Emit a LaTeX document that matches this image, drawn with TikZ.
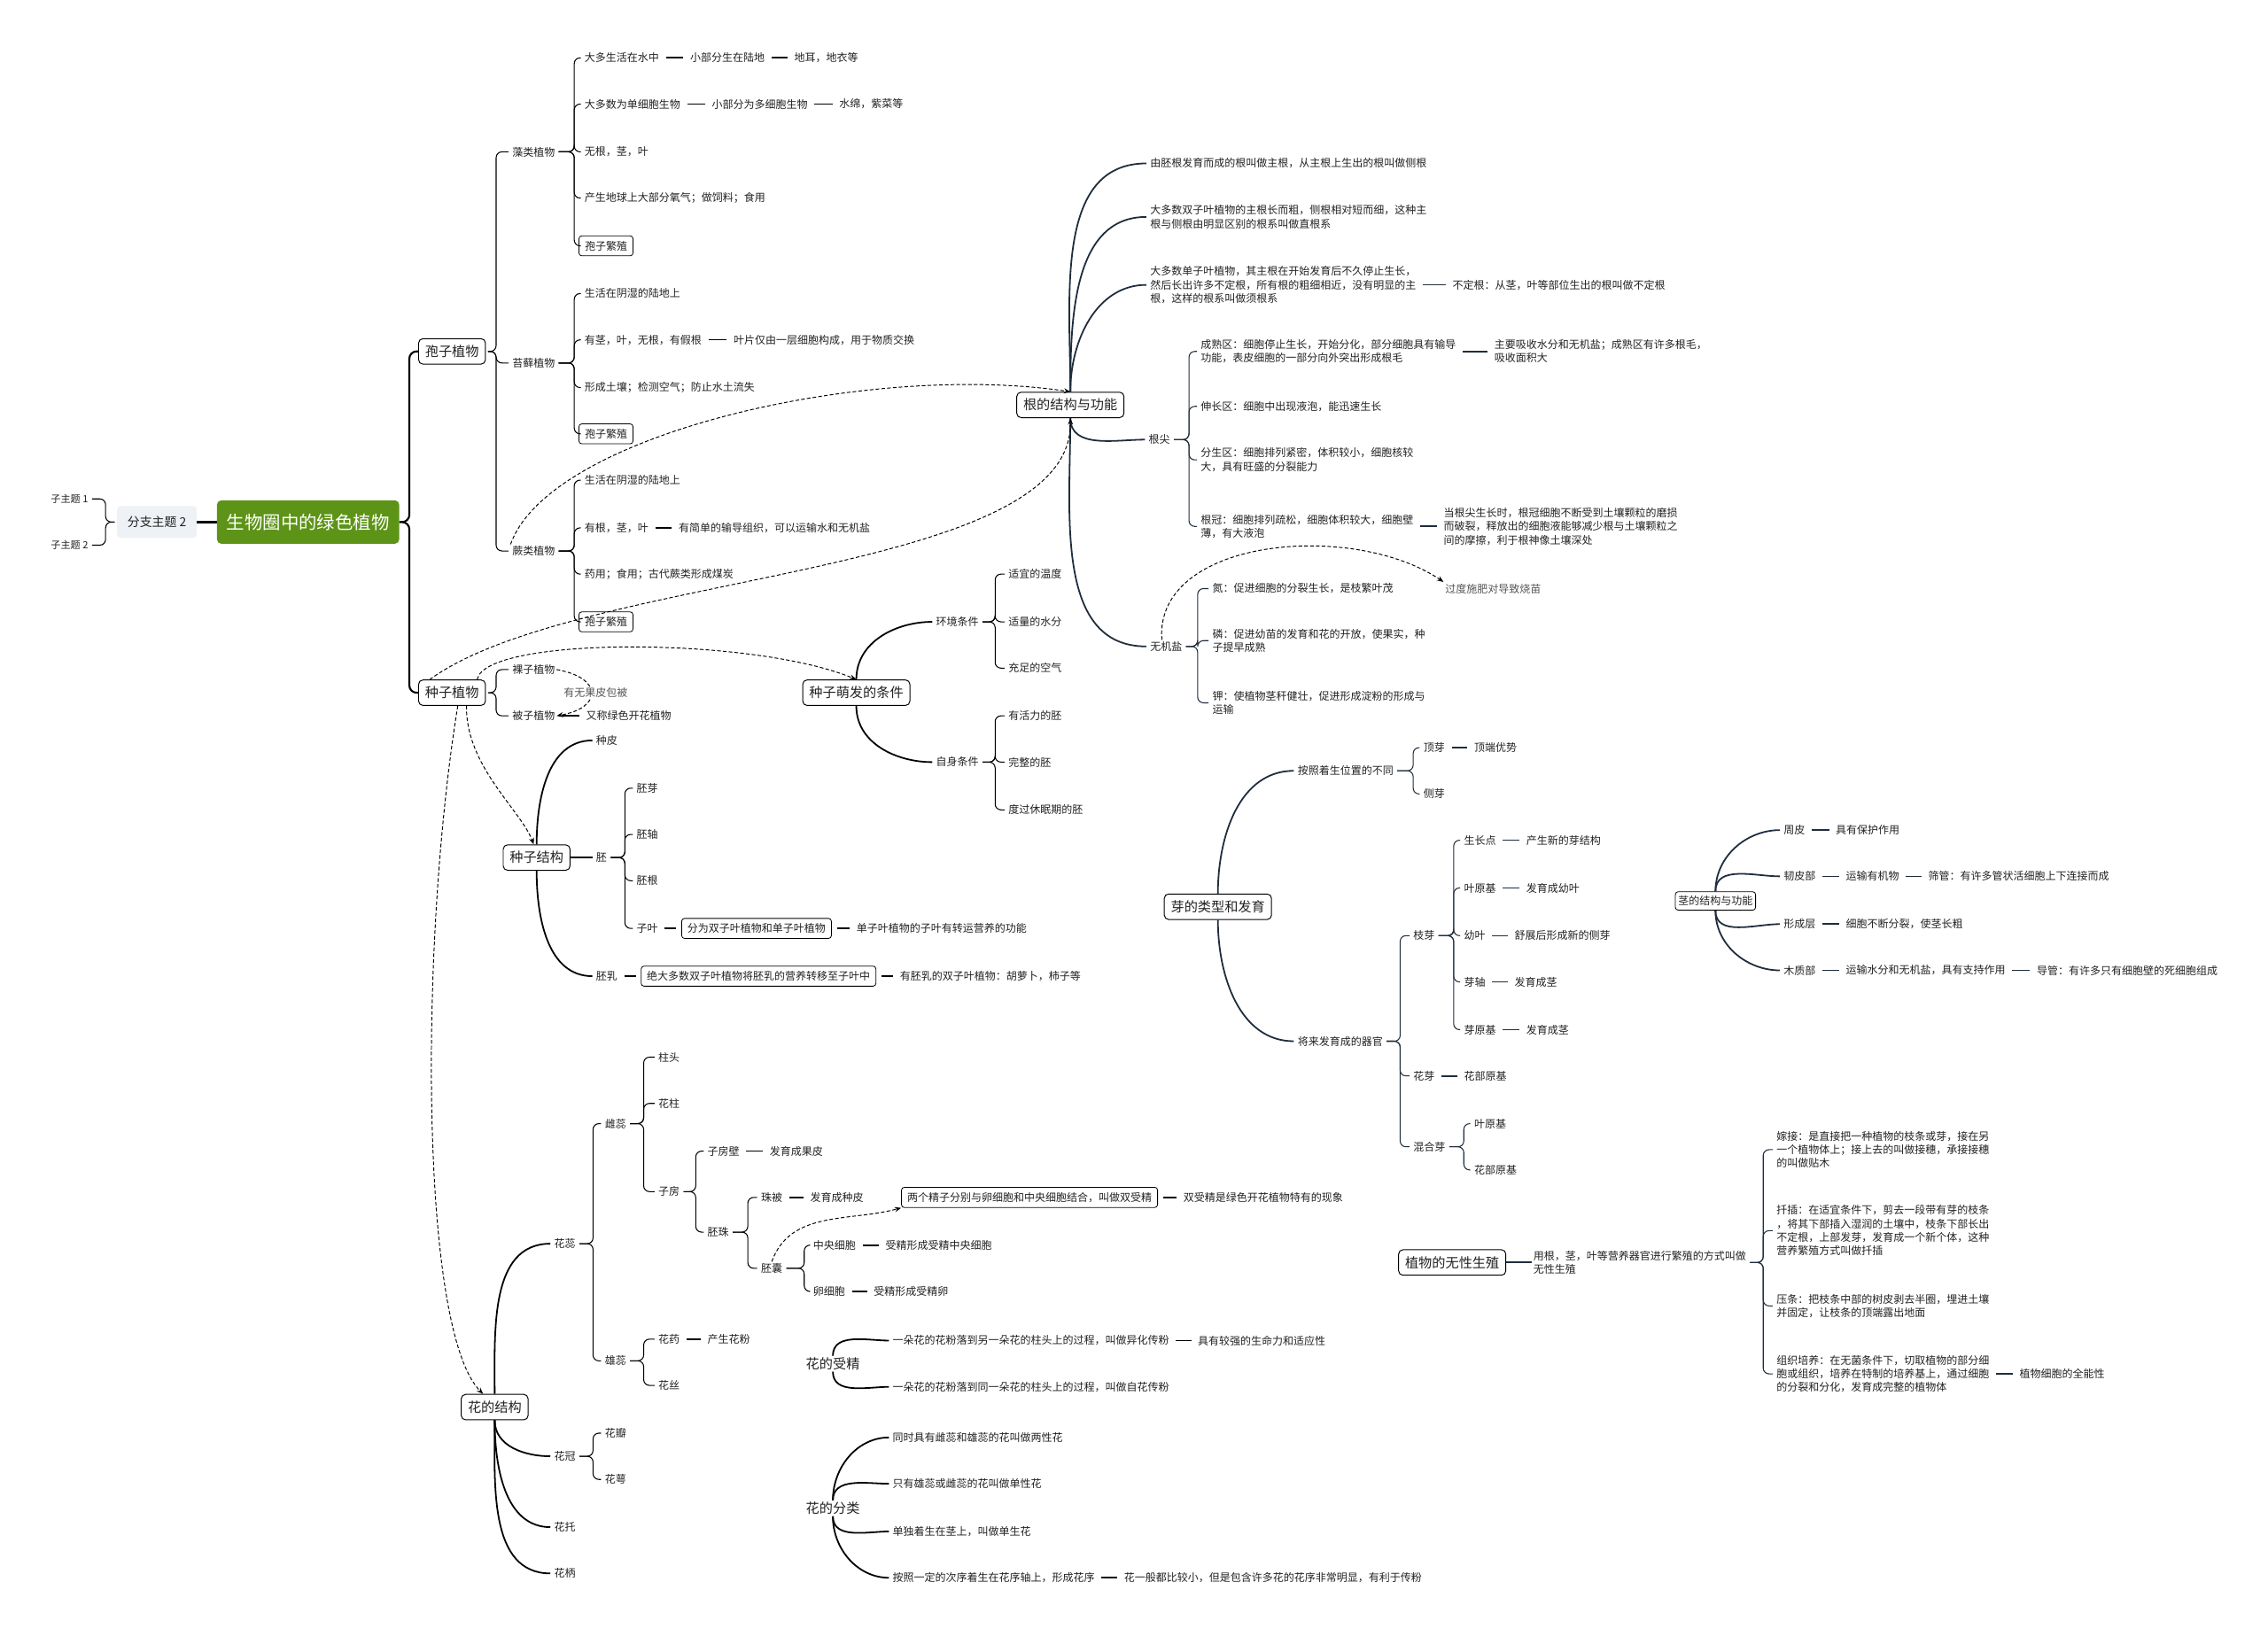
\documentclass[tikz,border=0pt]{standalone}
\usepackage{fontspec}
\setmainfont{Noto Sans CJK SC}
\usetikzlibrary{arrows.meta,calc}
\definecolor{txt}{HTML}{222222}
\definecolor{navy}{HTML}{1F2D3D}
\definecolor{rootg}{HTML}{5D9417}
\definecolor{brgray}{HTML}{EEF1F5}
\definecolor{lbl}{HTML}{555555}
\newcommand\fs{\fontsize{7.35}{9.4}\selectfont}
\newcommand\fb{\fontsize{9.3}{11}\selectfont}
\newcommand\fr{\fontsize{12.5}{14}\selectfont}
\newcommand\mmbr[4][black]{\draw[cb,draw=#1] (#2.east) -- (#2.east -| #4) |- (#3.west);}
\newcommand\mmch[3][black]{\draw[cd,draw=#1] (#2.east) -- (#3.west);}
\begin{document}
\begin{tikzpicture}[x=1pt,y=1pt,
 every node/.style={font=\fs,text=txt,inner sep=1pt},
 t/.style={anchor=west},
 ml/.style={anchor=west,align=left},
 sb/.style={anchor=west,draw=black,rounded corners=2pt,inner xsep=4pt,inner ysep=3.5pt,line width=0.5pt},
 bb/.style={draw=black,rounded corners=3pt,font=\fb,inner xsep=4.5pt,inner ysep=4.5pt,line width=0.6pt},
 cb/.style={line width=0.65pt,rounded corners=4pt,shorten <=1.5pt,shorten >=1.5pt},
 cd/.style={line width=1pt,shorten <=3.5pt,shorten >=3.5pt},
 cc/.style={line width=1.1pt,shorten >=1.5pt},
 rel/.style={line width=0.6pt,dash pattern=on 2.5pt off 1.5pt,-{Stealth[length=4.5pt,width=3.5pt]}},
]
\fill[white] (0,0) rectangle (1568,-1131);
\path[use as bounding box] (0,0) rectangle (1568,-1131);

% ---------- root ----------
\node[fill=rootg,text=white,font=\fr,rounded corners=3pt,minimum width=126pt,minimum height=30pt] (root) at (213,-361) {生物圈中的绿色植物};
\node[fill=brgray,font=\fontsize{8.5}{10}\selectfont,rounded corners=2.5pt,minimum width=55pt,minimum height=22pt] (br2) at (108.5,-361) {分支主题 2};
\node[t,font=\fontsize{6.8}{8}\selectfont] (z1) at (34,-345) {子主题 1};
\node[t,font=\fontsize{6.8}{8}\selectfont] (z2) at (34,-377) {子主题 2};
\coordinate (bZ) at (73,0);
\draw[cb] (br2.west) -- (br2.west -| bZ) |- (z1.east);
\draw[cb] (br2.west) -- (br2.west -| bZ) |- (z2.east);
\draw[line width=1.5pt] (br2.east) -- (root.west);

\coordinate (jT) at (283,0);
\node[bb] (spore) at (312.5,-243) {孢子植物};
\node[bb] (seed) at (312.5,-479) {种子植物};
\draw[line width=1.3pt,rounded corners=5pt] (root.east) -- (root.east -| jT) |- (spore.west);
\draw[line width=1.3pt,rounded corners=5pt] (root.east) -- (root.east -| jT) |- (seed.west);

% ---------- spore plants ----------
\coordinate (b1) at (343,0);
\coordinate (b2) at (397,0);
\node[t] (algae) at (353,-105) {藻类植物};
\node[t] (moss) at (353,-251) {苔藓植物};
\node[t] (fern) at (353,-381) {蕨类植物};
\mmbr{spore}{algae}{b1}\mmbr{spore}{moss}{b1}\mmbr{spore}{fern}{b1}

\node[t] (a1) at (403,-40) {大多生活在水中};
\node[t] (a1b) at (476,-40) {小部分生在陆地};
\node[t] (a1c) at (548,-40) {地耳，地衣等};
\node[t] (a2) at (403,-72) {大多数为单细胞生物};
\node[t] (a2b) at (491,-72) {小部分为多细胞生物};
\node[t] (a2c) at (579,-72) {水绵，紫菜等};
\node[t] (a3) at (403,-105) {无根，茎，叶};
\node[t] (a4) at (403,-137) {产生地球上大部分氧气；做饲料；食用};
\node[sb] (a5) at (400,-170) {孢子繁殖};
\mmbr{algae}{a1}{b2}\mmbr{algae}{a2}{b2}\mmbr{algae}{a3}{b2}\mmbr{algae}{a4}{b2}\mmbr{algae}{a5}{b2}
\mmch{a1}{a1b}\mmch{a1b}{a1c}\mmch{a2}{a2b}\mmch{a2b}{a2c}

\node[t] (m1) at (403,-203) {生活在阴湿的陆地上};
\node[t] (m2) at (403,-235) {有茎，叶，无根，有假根};
\node[t] (m2b) at (506,-235) {叶片仅由一层细胞构成，用于物质交换};
\node[t] (m3) at (403,-268) {形成土壤；检测空气；防止水土流失};
\node[sb] (m4) at (400,-300) {孢子繁殖};
\mmbr{moss}{m1}{b2}\mmbr{moss}{m2}{b2}\mmbr{moss}{m3}{b2}\mmbr{moss}{m4}{b2}
\mmch{m2}{m2b}

\node[t] (f1) at (403,-332) {生活在阴湿的陆地上};
\node[t] (f2) at (403,-365) {有根，茎，叶};
\node[t] (f2b) at (468,-365) {有简单的输导组织，可以运输水和无机盐};
\node[t] (f3) at (403,-397) {药用；食用；古代蕨类形成煤炭};
\node[sb] (f4) at (400,-430) {孢子繁殖};
\mmbr{fern}{f1}{b2}\mmbr{fern}{f2}{b2}\mmbr{fern}{f3}{b2}\mmbr{fern}{f4}{b2}
\mmch{f2}{f2b}

% ---------- seed plants ----------
\node[t] (s1) at (353,-463) {裸子植物};
\node[t] (s2) at (353,-495) {被子植物};
\node[t] (s2b) at (404,-495) {又称绿色开花植物};
\mmbr{seed}{s1}{b1}\mmbr{seed}{s2}{b1}
\mmch{s2}{s2b}
\draw[rel] (s1.east) to[out=-10,in=10,looseness=2.6] (s2.east);
\node[t,text=lbl,fill=white,inner sep=0.5pt] (s12) at (389,-479) {有无果皮包被};

% germination
\node[bb] (germ) at (592,-479) {种子萌发的条件};
\node[t] (g1) at (646,-430) {环境条件};
\node[t] (g2) at (646,-527) {自身条件};
\draw[cc] (germ.north) to[out=90,in=180] (g1.west);
\draw[cc] (germ.south) to[out=-90,in=180] (g2.west);
\coordinate (b3) at (688,0);
\node[t] (g11) at (696,-397) {适宜的温度};
\node[t] (g12) at (696,-430) {适量的水分};
\node[t] (g13) at (696,-462) {充足的空气};
\node[t] (g21) at (696,-495) {有活力的胚};
\node[t] (g22) at (696,-527) {完整的胚};
\node[t] (g23) at (696,-560) {度过休眠期的胚};
\mmbr{g1}{g11}{b3}\mmbr{g1}{g12}{b3}\mmbr{g1}{g13}{b3}
\mmbr{g2}{g21}{b3}\mmbr{g2}{g22}{b3}\mmbr{g2}{g23}{b3}

% seed structure
\node[bb] (sstr) at (371,-593) {种子结构};
\node[t] (ss1) at (411,-512) {种皮};
\node[t] (ss2) at (411,-593) {胚};
\node[t] (ss3) at (411,-675) {胚乳};
\draw[cc] (sstr.north) to[out=90,in=180] (ss1.west);
\draw[cc] (sstr.east) -- (ss2.west);
\draw[cc] (sstr.south) to[out=-90,in=180] (ss3.west);
\coordinate (b4) at (432,0);
\node[t] (e1) at (439,-545) {胚芽};
\node[t] (e2) at (439,-577) {胚轴};
\node[t] (e3) at (439,-609) {胚根};
\node[t] (e4) at (439,-642) {子叶};
\mmbr{ss2}{e1}{b4}\mmbr{ss2}{e2}{b4}\mmbr{ss2}{e3}{b4}\mmbr{ss2}{e4}{b4}
\node[sb] (e4b) at (471,-642) {分为双子叶植物和单子叶植物};
\node[t] (e4c) at (591,-642) {单子叶植物的子叶有转运营养的功能};
\mmch{e4}{e4b}\mmch{e4b}{e4c}
\node[sb] (ss3b) at (443,-675) {绝大多数双子叶植物将胚乳的营养转移至子叶中};
\node[t] (ss3c) at (621,-675) {有胚乳的双子叶植物：胡萝卜，柿子等};
\mmch{ss3}{ss3b}\mmch{ss3b}{ss3c}

% flower structure
\node[bb] (flower) at (342,-973) {花的结构};
\node[t] (fl1) at (382,-860) {花蕊};
\node[t] (fl2) at (382,-1007) {花冠};
\node[t] (fl3) at (382,-1056) {花托};
\node[t] (fl4) at (382,-1088) {花柄};
\draw[cc] (flower.north) to[out=90,in=180] (fl1.west);
\draw[cc] (flower.south) to[out=-90,in=180] (fl2.west);
\draw[cc] (flower.south) to[out=-90,in=180] (fl3.west);
\draw[cc] (flower.south) to[out=-90,in=180] (fl4.west);
\coordinate (b5) at (410,0);
\node[t] (p1) at (417,-777) {雌蕊};
\node[t] (p2) at (417,-941) {雄蕊};
\mmbr{fl1}{p1}{b5}\mmbr{fl1}{p2}{b5}
\coordinate (b6) at (445,0);
\node[t] (q1) at (454,-731) {柱头};
\node[t] (q2) at (454,-763) {花柱};
\node[t] (q3) at (454,-824) {子房};
\mmbr{p1}{q1}{b6}\mmbr{p1}{q2}{b6}\mmbr{p1}{q3}{b6}
\coordinate (b7) at (481,0);
\node[t] (r1) at (488,-796) {子房壁};
\node[t] (r1b) at (531,-796) {发育成果皮};
\node[t] (r2) at (488,-852) {胚珠};
\mmbr{q3}{r1}{b7}\mmbr{q3}{r2}{b7}\mmch{r1}{r1b}
\coordinate (b8) at (517,0);
\node[t] (u1) at (525,-828) {珠被};
\node[t] (u1b) at (559,-828) {发育成种皮};
\node[t] (u2) at (525,-877) {胚囊};
\mmbr{r2}{u1}{b8}\mmbr{r2}{u2}{b8}\mmch{u1}{u1b}
\coordinate (b9) at (556,0);
\node[t] (v1) at (561,-861) {中央细胞};
\node[t] (v1b) at (611,-861) {受精形成受精中央细胞};
\node[t] (v2) at (561,-893) {卵细胞};
\node[t] (v2b) at (603,-893) {受精形成受精卵};
\mmbr{u2}{v1}{b9}\mmbr{u2}{v2}{b9}\mmch{v1}{v1b}\mmch{v2}{v2b}
\node[sb] (dbl) at (623,-828) {两个精子分别与卵细胞和中央细胞结合，叫做双受精};
\node[t] (dblc) at (817,-828) {双受精是绿色开花植物特有的现象};
\mmch{dbl}{dblc}
\draw[rel] (u2.north) to[out=70,in=195] (dbl.south west);
\node[t] (w1) at (454,-926) {花药};
\node[t] (w1b) at (488,-926) {产生花粉};
\node[t] (w2) at (454,-958) {花丝};
\mmbr{p2}{w1}{b6}\mmbr{p2}{w2}{b6}\mmch{w1}{w1b}
\node[t] (x1) at (417,-991) {花瓣};
\node[t] (x2) at (417,-1023) {花萼};
\mmbr{fl2}{x1}{b5}\mmbr{fl2}{x2}{b5}

% pollination & classification
\node[t,font=\fb] (pol) at (556,-943) {花的受精};
\node[t] (pc1) at (616,-927) {一朵花的花粉落到另一朵花的柱头上的过程，叫做异化传粉};
\node[t] (pc1b) at (827,-927) {具有较强的生命力和适应性};
\node[t] (pc2) at (616,-959) {一朵花的花粉落到同一朵花的柱头上的过程，叫做自花传粉};
\draw[cc] (pol.north) to[out=90,in=180] (pc1.west);
\draw[cc] (pol.south) to[out=-90,in=180] (pc2.west);
\mmch{pc1}{pc1b}
\node[t,font=\fb] (cls) at (556,-1043) {花的分类};
\node[t] (cc1) at (616,-994) {同时具有雌蕊和雄蕊的花叫做两性花};
\node[t] (cc2) at (616,-1026) {只有雄蕊或雌蕊的花叫做单性花};
\node[t] (cc3) at (616,-1059) {单独着生在茎上，叫做单生花};
\node[t] (cc4) at (616,-1091) {按照一定的次序着生在花序轴上，形成花序};
\node[t] (cc4b) at (776,-1091) {花一般都比较小，但是包含许多花的花序非常明显，有利于传粉};
\draw[cc] (cls.north) to[out=90,in=180] (cc1.west);
\draw[cc] (cls.north) to[out=90,in=180] (cc2.west);
\draw[cc] (cls.south) to[out=-90,in=180] (cc3.west);
\draw[cc] (cls.south) to[out=-90,in=180] (cc4.west);
\mmch{cc4}{cc4b}

% ---------- roots ----------
\node[bb] (rootS) at (740,-280) {根的结构与功能};
\node[t] (rc1) at (794,-113) {由胚根发育而成的根叫做主根，从主根上生出的根叫做侧根};
\node[ml] (rc2) at (794,-150) {大多数双子叶植物的主根长而粗，侧根相对短而细，这种主\\根与侧根由明显区别的根系叫做直根系};
\node[ml] (rc3) at (794,-197) {大多数单子叶植物，其主根在开始发育后不久停止生长，\\然后长出许多不定根，所有根的粗细相近，没有明显的主\\根，这样的根系叫做须根系};
\node[t] (rc3b) at (1003,-197) {不定根：从茎，叶等部位生出的根叫做不定根};
\node[t] (rc4) at (793,-304) {根尖};
\node[t] (rc5) at (794,-447) {无机盐};
\draw[cc,navy] (rootS.north) to[out=90,in=180] (rc1.west);
\draw[cc,navy] (rootS.north) to[out=90,in=180] (rc2.west);
\draw[cc,navy] (rootS.north) to[out=90,in=180] (rc3.west);
\draw[cc,navy] (rootS.south) to[out=-90,in=180] (rc4.west);
\draw[cc,navy] (rootS.south) to[out=-90,in=180] (rc5.west);
\mmch[navy]{rc3}{rc3b}
\coordinate (b10) at (822,0);
\node[ml] (k1) at (829,-243) {成熟区：细胞停止生长，开始分化，部分细胞具有输导\\功能，表皮细胞的一部分向外突出形成根毛};
\node[ml] (k1b) at (1032,-243) {主要吸收水分和无机盐；成熟区有许多根毛，\\吸收面积大};
\node[t] (k2) at (829,-281) {伸长区：细胞中出现液泡，能迅速生长};
\node[ml] (k3) at (829,-318) {分生区：细胞排列紧密，体积较小，细胞核较\\大，具有旺盛的分裂能力};
\node[ml] (k4) at (829,-364) {根冠：细胞排列疏松，细胞体积较大，细胞壁\\薄，有大液泡};
\node[ml] (k4b) at (997,-364) {当根尖生长时，根冠细胞不断受到土壤颗粒的磨损\\而破裂，释放出的细胞液能够减少根与土壤颗粒之\\间的摩擦，利于根神像土壤深处};
\mmbr[navy]{rc4}{k1}{b10}\mmbr[navy]{rc4}{k2}{b10}\mmbr[navy]{rc4}{k3}{b10}\mmbr[navy]{rc4}{k4}{b10}
\mmch[navy]{k1}{k1b}\mmch[navy]{k4}{k4b}
\coordinate (b11) at (828,0);
\node[t] (n1) at (837,-407) {氮：促进细胞的分裂生长，是枝繁叶茂};
\node[ml] (n2) at (837,-443) {磷：促进幼苗的发育和花的开放，使果实，种\\子提早成熟};
\node[ml] (n3) at (837,-486) {钾：使植物茎秆健壮，促进形成淀粉的形成与\\运输};
\mmbr[navy]{rc5}{n1}{b11}\mmbr[navy]{rc5}{n2}{b11}\mmbr[navy]{rc5}{n3}{b11}
\node[t,text=lbl] (over) at (998,-407) {过度施肥对导致烧苗};
\draw[rel] ($(rc5.north)+(-3,0)$) .. controls (798,-372) and (935,-360) .. (over.north west);

% dashed relations from spore/seed plants
\draw[rel] (fern.north west) .. controls (380,-300) and (600,-250) .. (rootS.north);
\draw[rel] ($(seed.north west)+(8,0)$) .. controls (400,-395) and (742,-400) .. (rootS.south);
\draw[rel] ($(seed.north east)+(-6,0)$) .. controls (335,-440) and (520,-440) .. (germ.north);
\draw[rel] ($(seed.south)+(10,0)$) .. controls (322,-530) and (360,-560) .. ($(sstr.north)+(-2,0)$);
\draw[rel] ($(seed.south)+(4,0)$) .. controls (290,-650) and (290,-920) .. ($(flower.north)+(-8,0)$);

% ---------- buds ----------
\node[bb] (bud) at (842,-627) {芽的类型和发育};
\node[t] (bd1) at (896,-533) {按照着生位置的不同};
\node[t] (bd2) at (896,-720) {将来发育成的器官};
\draw[cc,navy] (bud.north) to[out=90,in=180] (bd1.west);
\draw[cc,navy] (bud.south) to[out=-90,in=180] (bd2.west);
\coordinate (b12) at (977,0);
\node[t] (bd1a) at (983,-517) {顶芽};
\node[t] (bd1a2) at (1018,-517) {顶端优势};
\node[t] (bd1b) at (983,-549) {侧芽};
\mmbr[navy]{bd1}{bd1a}{b12}\mmbr[navy]{bd1}{bd1b}{b12}\mmch[navy]{bd1a}{bd1a2}
\coordinate (b13) at (968,0);
\node[t] (bd2a) at (976,-647) {枝芽};
\node[t] (bd2b) at (976,-744) {花芽};
\node[t] (bd2b2) at (1011,-744) {花部原基};
\node[t] (bd2c) at (976,-793) {混合芽};
\mmbr[navy]{bd2}{bd2a}{b13}\mmbr[navy]{bd2}{bd2b}{b13}\mmbr[navy]{bd2}{bd2c}{b13}\mmch[navy]{bd2b}{bd2b2}
\coordinate (b14) at (1005,0);
\node[t] (zy1) at (1011,-581) {生长点};
\node[t] (zy1b) at (1054,-581) {产生新的芽结构};
\node[t] (zy2) at (1011,-614) {叶原基};
\node[t] (zy2b) at (1054,-614) {发育成幼叶};
\node[t] (zy3) at (1011,-647) {幼叶};
\node[t] (zy3b) at (1046,-647) {舒展后形成新的侧芽};
\node[t] (zy4) at (1011,-679) {芽轴};
\node[t] (zy4b) at (1046,-679) {发育成茎};
\node[t] (zy5) at (1011,-712) {芽原基};
\node[t] (zy5b) at (1054,-712) {发育成茎};
\mmbr[navy]{bd2a}{zy1}{b14}\mmbr[navy]{bd2a}{zy2}{b14}\mmbr[navy]{bd2a}{zy3}{b14}\mmbr[navy]{bd2a}{zy4}{b14}\mmbr[navy]{bd2a}{zy5}{b14}
\mmch[navy]{zy1}{zy1b}\mmch[navy]{zy2}{zy2b}\mmch[navy]{zy3}{zy3b}\mmch[navy]{zy4}{zy4b}\mmch[navy]{zy5}{zy5b}
\coordinate (b15) at (1012,0);
\node[t] (hy1) at (1018,-777) {叶原基};
\node[t] (hy2) at (1018,-809) {花部原基};
\mmbr[navy]{bd2c}{hy1}{b15}\mmbr[navy]{bd2c}{hy2}{b15}

% ---------- stem ----------
\node[draw=black,rounded corners=2pt,line width=0.5pt,inner xsep=2pt,inner ysep=3pt] (stem) at (1186,-623) {茎的结构与功能};
\node[t] (st1) at (1232,-574) {周皮};
\node[t] (st1b) at (1268,-574) {具有保护作用};
\node[t] (st2) at (1232,-606) {韧皮部};
\node[t] (st2b) at (1275,-606) {运输有机物};
\node[t] (st2c) at (1332,-606) {筛管：有许多管状活细胞上下连接而成};
\node[t] (st3) at (1232,-639) {形成层};
\node[t] (st3b) at (1275,-639) {细胞不断分裂，使茎长粗};
\node[t] (st4) at (1232,-671) {木质部};
\node[t] (st4b) at (1275,-671) {运输水分和无机盐，具有支持作用};
\node[t] (st4c) at (1407,-671) {导管：有许多只有细胞壁的死细胞组成};
\draw[cc,navy] (stem.north) to[out=90,in=180] (st1.west);
\draw[cc,navy] (stem.north) to[out=90,in=180] (st2.west);
\draw[cc,navy] (stem.south) to[out=-90,in=180] (st3.west);
\draw[cc,navy] (stem.south) to[out=-90,in=180] (st4.west);
\mmch[navy]{st1}{st1b}\mmch[navy]{st2}{st2b}\mmch[navy]{st2b}{st2c}\mmch[navy]{st3}{st3b}\mmch[navy]{st4}{st4b}\mmch[navy]{st4b}{st4c}

% ---------- asexual ----------
\node[bb] (asex) at (1004,-873) {植物的无性生殖};
\node[ml] (as1) at (1059,-873) {用根，茎，叶等营养器官进行繁殖的方式叫做\\无性生殖};
\draw[line width=1.3pt,navy] (asex.east) -- (as1.west);
\coordinate (b16) at (1219,0);
\node[ml] (as2) at (1227,-795) {嫁接：是直接把一种植物的枝条或芽，接在另\\一个植物体上；接上去的叫做接穗，承接接穗\\的叫做贴木};
\node[ml] (as3) at (1227,-851) {扦插：在适宜条件下，剪去一段带有芽的枝条\\，将其下部插入湿润的土壤中，枝条下部长出\\不定根，上部发芽，发育成一个新个体，这种\\营养繁殖方式叫做扦插};
\node[ml] (as4) at (1227,-903) {压条：把枝条中部的树皮剥去半圈，埋进土壤\\并固定，让枝条的顶端露出地面};
\node[ml] (as5) at (1227,-950) {组织培养：在无菌条件下，切取植物的部分细\\胞或组织，培养在特制的培养基上，通过细胞\\的分裂和分化，发育成完整的植物体};
\node[t] (as5b) at (1395,-950) {植物细胞的全能性};
\mmbr[navy]{as1}{as2}{b16}\mmbr[navy]{as1}{as3}{b16}\mmbr[navy]{as1}{as4}{b16}\mmbr[navy]{as1}{as5}{b16}
\mmch[navy]{as5}{as5b}
\end{tikzpicture}
\end{document}
